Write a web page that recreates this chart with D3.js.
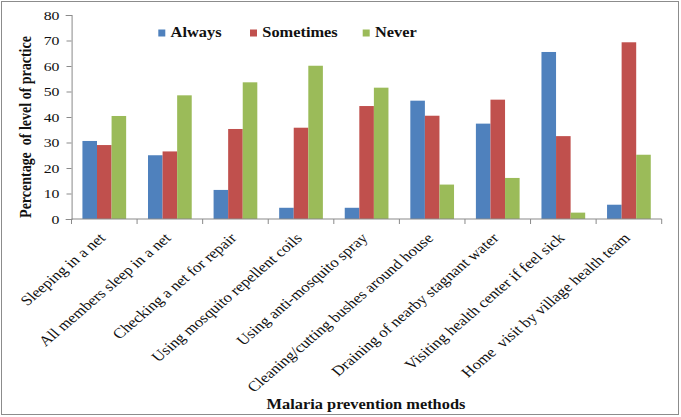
<!DOCTYPE html>
<html>
<head>
<meta charset="utf-8">
<script src="https://cdn.jsdelivr.net/npm/d3@7"></script>
<style>
html,body{margin:0;padding:0;background:#fff;}
svg{display:block;}
</style>
</head>
<body>
<svg id="chart" width="681" height="417"></svg>
<script>
const categories = [
  "Sleeping in a net",
  "All members sleep in a net",
  "Checking a net for repair",
  "Using mosquito repellent coils",
  "Using anti-mosquito spray",
  "Cleaning/cutting bushes around house",
  "Draining of nearby stagnant water",
  "Visiting health center if feel sick",
  "Home  visit by village health team"
];
const seriesNames = ["Always", "Sometimes", "Never"];
const always    = [30.6, 25.0, 11.4, 4.4, 4.4, 46.4, 37.4, 65.5, 5.6];
const sometimes = [29.0, 26.5, 35.3, 35.8, 44.3, 40.5, 46.8, 32.5, 69.3];
const never     = [40.4, 48.5, 53.6, 60.1, 51.5, 13.5, 16.1, 2.5, 25.2];
const yTicks = [0, 10, 20, 30, 40, 50, 60, 70, 80];
const colors = ["#4F81BD", "#C0504D", "#9BBB59"];
const values = [always, sometimes, never];

const S = 1.17; // horizontal stretch of the original picture
const svg = d3.select("#chart");
const font = "'Liberation Serif','Times New Roman',serif";

// outer frame
svg.append("rect").attr("x", 1.5).attr("y", 1.5).attr("width", 677).attr("height", 413)
  .attr("fill", "#fff").attr("stroke", "#8c8c8c").attr("stroke-width", 1);

const g = svg.append("g").attr("transform", `scale(${S},1)`);

const x0 = 71.5 / S, x1 = 661.7 / S;
const yTop = 15, yBot = 219;

const x = d3.scaleBand().domain(categories).range([x0, x1]).paddingInner(0).paddingOuter(0);
const y = d3.scaleLinear().domain([0, 80]).range([yBot, yTop]);
const bw = x.bandwidth() / 4.5;
const xs = d3.scaleBand().domain(seriesNames).range([0.75 * bw, 3.75 * bw]);

// bars
seriesNames.forEach((s, si) => {
  g.append("g").selectAll("rect").data(categories).join("rect")
    .attr("x", c => x(c) + xs(s))
    .attr("width", xs.bandwidth())
    .attr("y", (c, i) => y(values[si][i]))
    .attr("height", (c, i) => y(0) - y(values[si][i]))
    .attr("fill", colors[si]);
});

// y axis
const yAxis = d3.axisLeft(y).tickValues(yTicks).tickSize(5).tickPadding(7).tickFormat(d3.format("d"));
const ya = g.append("g").attr("transform", `translate(${x0},0)`).call(yAxis);
ya.select(".domain").attr("stroke", "#8a8a8a").attr("stroke-width", 1 / S);
ya.selectAll(".tick line").attr("stroke", "#8a8a8a").attr("x2", -5 / S);
ya.selectAll(".tick text").attr("font-family", font).attr("font-size", 13.5).attr("fill", "#111")
  .attr("x", -12 / S).attr("dy", "0.33em");

// x axis
const xa = g.append("g").attr("transform", `translate(0,${yBot})`);
xa.append("line").attr("x1", x0).attr("x2", x1).attr("y1", 0).attr("y2", 0).attr("stroke", "#8a8a8a");
const bounds = categories.map(c => x(c)).concat([x1]);
xa.selectAll("line.tk").data(bounds).join("line").attr("class", "tk")
  .attr("x1", d => d).attr("x2", d => d).attr("y1", 0).attr("y2", 5)
  .attr("stroke", "#8a8a8a").attr("stroke-width", 1 / S);

// category labels
g.append("g").selectAll("text").data(categories).join("text")
  .attr("transform", c => `translate(${x(c) + x.bandwidth() / 2 + 2 / S},${yBot + 20}) rotate(-45)`)
  .attr("text-anchor", "end")
  .attr("font-family", font).attr("font-size", 14.3).attr("fill", "#111")
  .style("white-space", "pre")
  .text(c => c);

// axis titles
g.append("text")
  .attr("transform", `translate(${31 / S},${(yTop + yBot) / 2 + 10}) rotate(-90)`)
  .attr("text-anchor", "middle")
  .attr("font-family", font).attr("font-size", 14).attr("font-weight", "bold").attr("fill", "#111")
  .style("white-space", "pre")
  .text("Percentage  of level of practice");

g.append("text")
  .attr("x", 366 / S).attr("y", 409)
  .attr("text-anchor", "middle")
  .attr("font-family", font).attr("font-size", 14).attr("font-weight", "bold").attr("fill", "#111")
  .text("Malaria prevention methods");

// legend
const legX = [158.3, 250, 362.7];
const leg = g.append("g");
seriesNames.forEach((s, i) => {
  leg.append("rect").attr("x", legX[i] / S).attr("y", 29.5).attr("width", 7 / S).attr("height", 7)
    .attr("fill", colors[i]);
  leg.append("text").attr("x", (legX[i] + 12.3) / S).attr("y", 37.5)
    .attr("font-family", font).attr("font-size", 14).attr("font-weight", "bold").attr("fill", "#111")
    .text(s);
});
</script>
</body>
</html>
